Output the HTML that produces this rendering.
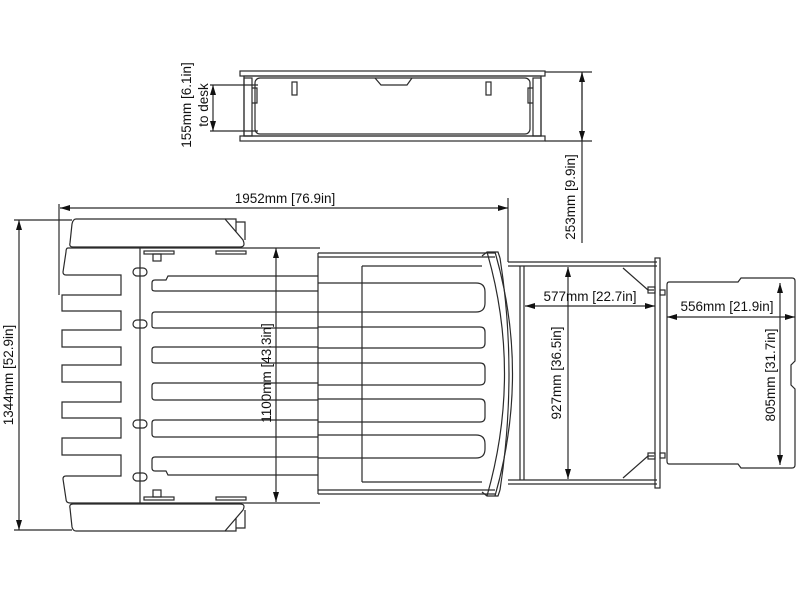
<!DOCTYPE html>
<html><head><meta charset="utf-8"><style>
html,body{margin:0;padding:0;background:#fff;}
svg{display:block;}
text{font-family:"Liberation Sans",sans-serif;font-size:13.5px;fill:#111;}
</style></head><body>
<svg width="800" height="600" viewBox="0 0 800 600" xmlns="http://www.w3.org/2000/svg">
<defs>
<marker id="a" markerWidth="10" markerHeight="6" refX="10" refY="3" orient="auto-start-reverse" markerUnits="userSpaceOnUse"><path d="M0,0 L10,3 L0,6 z" fill="#111"/></marker>
</defs>
<g fill="none" stroke="#2a2a2a" stroke-width="1.2">
<!-- top view -->
<rect x="240" y="71" width="305" height="5"/>
<rect x="240" y="136" width="305" height="5"/>
<rect x="244" y="76" width="297" height="60"/>
<rect x="255" y="78" width="275" height="56" rx="5"/>
<path d="M375,78 L381,85 L407,85 L412,78"/>
<rect x="292" y="82" width="5" height="13"/><rect x="486" y="82" width="5" height="13"/>
<rect x="244" y="78" width="8" height="58"/><rect x="533" y="78" width="8" height="58"/>
<path d="M252,88 h5 v15 h-5 M533,88 h-5 v15 h5"/>
<!-- 253 dim -->
<line x1="545" y1="72" x2="592" y2="72"/><line x1="545" y1="141" x2="592" y2="141"/>
<line x1="582" y1="72" x2="582" y2="243"/>
<line x1="582" y1="100" x2="582" y2="72" marker-end="url(#a)"/>
<line x1="582" y1="110" x2="582" y2="141" marker-end="url(#a)"/>
<!-- 155 dim -->
<line x1="210" y1="85" x2="258" y2="85"/><line x1="210" y1="131" x2="258" y2="131"/>
<line x1="213" y1="108" x2="213" y2="85" marker-end="url(#a)"/>
<line x1="213" y1="108" x2="213" y2="131" marker-end="url(#a)"/>
<!-- 1952 dim -->
<line x1="59" y1="204" x2="59" y2="295"/><line x1="508" y1="198" x2="508" y2="262"/>
<line x1="300" y1="208" x2="60" y2="208" marker-end="url(#a)"/>
<line x1="300" y1="208" x2="508" y2="208" marker-end="url(#a)"/>
<!-- 1344 dim -->
<line x1="14" y1="220" x2="72" y2="220"/><line x1="14" y1="530" x2="72" y2="530"/>
<line x1="19" y1="375" x2="19" y2="220" marker-end="url(#a)"/>
<line x1="19" y1="375" x2="19" y2="530" marker-end="url(#a)"/>
<!-- wings -->
<path d="M76,219 L225,219 L243,240 Q246,247 240,247 L73,247 Q69,247 70,243 L72,224 Q73,219 76,219 z"/>
<path d="M76,531 L225,531 L243,510 Q246,504 240,504 L73,504 Q69,504 70,508 L72,527 Q73,531 76,531 z"/>
<path d="M225,219 L236,219 L236,232 M236,222 L245,222 L245,240"/>
<path d="M225,531 L236,531 L236,518 M236,528 L245,528 L245,510"/>
<!-- comb -->
<path d="M140,248 L68,248 Q66,248 66,252 L63,272 Q63,275 66,275 L121,275 L121,295 L62,295 L62,311 L121,311 L121,330 L62,330 L62,347 L121,347 L121,365 L62,365 L62,382 L121,382 L121,402 L62,402 L62,418 L121,418 L121,438 L62,438 L62,455 L121,455 L121,476 L66,476 Q63,476 63,479 L66,499 Q66,503 70,503 L140,503"/>
<!-- panel -->
<line x1="140" y1="248" x2="140" y2="503"/>
<line x1="140" y1="248" x2="320" y2="248"/><line x1="140" y1="503" x2="320" y2="503"/>
<path d="M318,276 L168,276 L166,280 L155,280 Q152,280 152,283 L152,289 Q152,291 155,291 L318,291"/>
<path d="M318,312 L155,312 Q152,312 152,315 L152,326 Q152,328 155,328 L318,328"/>
<path d="M318,347 L155,347 Q152,347 152,350 L152,361 Q152,363 155,363 L318,363"/>
<path d="M318,383 L155,383 Q152,383 152,386 L152,397 Q152,400 155,400 L318,400"/>
<path d="M318,420 L155,420 Q152,420 152,423 L152,434 Q152,437 155,437 L318,437"/>
<path d="M318,475 L168,475 L166,471 L155,471 Q152,471 152,468 L152,460 Q152,457 155,457 L318,457"/>
<rect x="133" y="268" width="14" height="8" rx="4"/><rect x="133" y="320" width="14" height="8" rx="4"/>
<rect x="133" y="420" width="14" height="8" rx="4"/><rect x="133" y="473" width="14" height="8" rx="4"/>
<rect x="144" y="251" width="30" height="3"/><rect x="216" y="251" width="30" height="3"/>
<rect x="144" y="497" width="30" height="3"/><rect x="216" y="497" width="30" height="3"/>
<rect x="153" y="254" width="8" height="7"/><rect x="153" y="490" width="8" height="7"/>
<!-- 1100 dim -->
<line x1="276" y1="370" x2="276" y2="248" marker-end="url(#a)"/>
<line x1="276" y1="370" x2="276" y2="502" marker-end="url(#a)"/>
<!-- section 2 -->
<line x1="318" y1="253" x2="495" y2="253"/><line x1="318" y1="257" x2="495" y2="257"/>
<line x1="318" y1="494" x2="495" y2="494"/><line x1="318" y1="490" x2="495" y2="490"/>
<line x1="318" y1="253" x2="318" y2="494"/>
<line x1="362" y1="266" x2="362" y2="482"/>
<line x1="362" y1="266" x2="482" y2="266"/><line x1="362" y1="482" x2="482" y2="482"/>
<path d="M318,283 L476,283 Q485,283 485,292 L485,303 Q485,312 476,312 L318,312"/>
<path d="M318,327 L480,327 Q485,327 485,332 L485,343 Q485,348 480,348 L318,348"/>
<path d="M318,363 L480,363 Q485,363 485,368 L485,380 Q485,385 480,385 L318,385"/>
<path d="M318,399 L480,399 Q485,399 485,404 L485,417 Q485,422 480,422 L318,422"/>
<path d="M318,435 L476,435 Q485,435 485,444 L485,449 Q485,458 476,458 L318,458"/>
<path d="M487,252 Q522,373 487,496"/>
<path d="M495,252 Q530,373 495,496"/>
<path d="M500,258 Q518,373 500,490"/>
<path d="M482,256 L487,252 L498,252 L500,258 M482,492 L487,496 L498,496 L500,490"/>
<!-- drawer frame -->
<line x1="508" y1="262" x2="657" y2="262"/><line x1="508" y1="266" x2="657" y2="266"/>
<line x1="508" y1="484" x2="657" y2="484"/><line x1="508" y1="480" x2="657" y2="480"/>
<line x1="520" y1="266" x2="520" y2="480"/><line x1="524" y1="266" x2="524" y2="480"/>
<rect x="655" y="258" width="5" height="230"/>
<path d="M623,268 L648,290 L654,290 M623,478 L648,456 L654,456"/>
<rect x="648" y="287" width="7" height="6"/><rect x="648" y="453" width="7" height="6"/>
<rect x="660" y="290" width="5" height="5"/><rect x="660" y="453" width="5" height="5"/>
<!-- 577 / 927 -->
<line x1="590" y1="306" x2="525" y2="306" marker-end="url(#a)"/>
<line x1="590" y1="306" x2="655" y2="306" marker-end="url(#a)"/>
<line x1="568" y1="370" x2="568" y2="267" marker-end="url(#a)"/>
<line x1="568" y1="370" x2="568" y2="479" marker-end="url(#a)"/>
<!-- right piece -->
<path d="M669,282 L738,282 L741,278 L792,278 Q795,278 795,281 L795,361 L791,365 L791,385 L795,389 L795,465 Q795,468 792,468 L741,468 L738,464 L669,464 Q667,464 667,461 L667,285 Q667,282 669,282 z"/>
<line x1="725" y1="317" x2="667" y2="317" marker-end="url(#a)"/>
<line x1="725" y1="317" x2="795" y2="317" marker-end="url(#a)"/>
<line x1="780" y1="375" x2="780" y2="283" marker-end="url(#a)"/>
<line x1="780" y1="375" x2="780" y2="465" marker-end="url(#a)"/>
</g>
<text x="285" y="203" text-anchor="middle">1952mm [76.9in]</text>
<text transform="translate(13,375) rotate(-90)" text-anchor="middle">1344mm [52.9in]</text>
<text transform="translate(271,373) rotate(-90)" text-anchor="middle">1100mm [43.3in]</text>
<text transform="translate(191,105) rotate(-90)" text-anchor="middle">155mm [6.1in]</text>
<text transform="translate(208,105) rotate(-90)" text-anchor="middle">to desk</text>
<text transform="translate(575,197) rotate(-90)" text-anchor="middle">253mm [9.9in]</text>
<text x="590" y="301" text-anchor="middle">577mm [22.7in]</text>
<text transform="translate(561,373) rotate(-90)" text-anchor="middle">927mm [36.5in]</text>
<text x="727" y="311" text-anchor="middle">556mm [21.9in]</text>
<text transform="translate(775,375) rotate(-90)" text-anchor="middle">805mm [31.7in]</text>
</svg>
</body></html>
